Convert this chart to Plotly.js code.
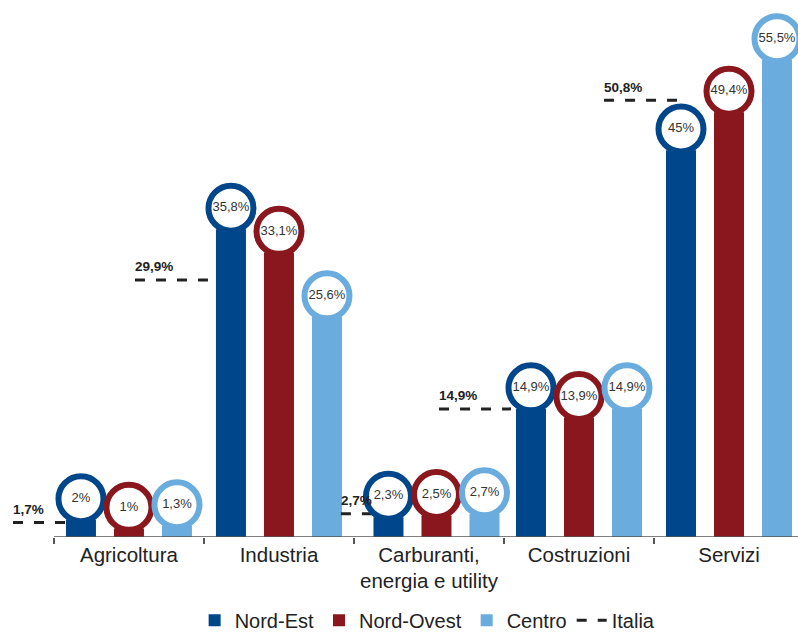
<!DOCTYPE html>
<html><head><meta charset="utf-8">
<script src="https://cdn.plot.ly/plotly-3.0.1.min.js"></script>
<style>html,body{margin:0;padding:0;background:#fff}#chart{width:798px;height:632px}</style>
</head><body><div id="chart"></div>
<script>
// ---- data ----
const categories = ['Agricoltura', 'Industria', 'Carburanti,<br>energia e utility', 'Costruzioni', 'Servizi'];
const seriesNames = ['Nord-Est', 'Nord-Ovest', 'Centro'];
const nordEst   = [2, 35.8, 2.3, 14.9, 45];
const nordOvest = [1, 33.1, 2.5, 13.9, 49.4];
const centro    = [1.3, 25.6, 2.7, 14.9, 55.5];
const italia    = [1.7, 29.9, 2.7, 14.9, 50.8];
const italiaName = 'Italia';

// ---- style / layout ----
const colors = ['#00468b', '#8a171d', '#6aacde'];
const groupOffsets = [-0.32, 0, 0.32];
const catShift = [0, 0, 0.05, 0, 0];
const barWidth = 0.2;
const circleLift = 2.45;
const italiaStart = [-0.773, -0.96, -0.587, -0.933, -0.833];
const italiaEnd   = [-0.413, -0.473, -0.367, -0.453, -0.34];
const FONT = 'Liberation Sans, Arial, Helvetica, sans-serif';

const fmt = v => String(v).replace('.', ',') + '%';
const idx = categories.map((_, i) => i);
const series = [nordEst, nordOvest, centro];

const traces = [];
series.forEach((vals, k) => {
  traces.push({
    type: 'bar', name: seriesNames[k], x: idx, y: vals,
    width: barWidth,
    offset: idx.map(i => groupOffsets[k] + catShift[i] - barWidth / 2),
    marker: {color: colors[k], line: {width: 0}},
    hoverinfo: 'skip'
  });
});

// Italia dashed segments
const ix = [], iy = [];
italia.forEach((v, i) => {
  ix.push(i + italiaStart[i], i + italiaEnd[i], null);
  iy.push(v, v, null);
});
traces.push({
  type: 'scatter', mode: 'lines', name: italiaName, x: ix, y: iy,
  line: {color: '#222', width: 3, dash: '10px,11px'},
  hoverinfo: 'skip', connectgaps: false
});

// circles
series.forEach((vals, k) => {
  traces.push({
    type: 'scatter', mode: 'markers+text', showlegend: false,
    x: idx.map(i => i + groupOffsets[k] + catShift[i]),
    y: vals.map(v => v + circleLift),
    text: vals.map(fmt), textposition: 'middle center',
    textfont: {family: FONT, size: 13, color: '#333'},
    marker: {size: 45, color: '#fff', line: {color: colors[k], width: 6}},
    cliponaxis: false, hoverinfo: 'skip'
  });
});

const annotations = italia.map((v, i) => ({
  x: i + italiaStart[i], y: v, xref: 'x', yref: 'y',
  text: '<b>' + fmt(v) + '</b>', showarrow: false,
  xanchor: 'left', yanchor: 'middle', yshift: 13, xshift: -2,
  font: {family: FONT, size: 13.5, color: '#222'}
}));

const boundaries = idx.map(i => i - 0.5).concat([categories.length - 0.5]);

const layout = {
  width: 798, height: 632,
  margin: {l: 10, r: 0, t: 10, b: 95, autoexpand: false},
  paper_bgcolor: '#fff', plot_bgcolor: '#fff',
  font: {family: FONT, color: '#222'},
  barmode: 'overlay',
  showlegend: true,
  legend: {orientation: 'h', x: 0.53, xanchor: 'center', y: -0.158, yanchor: 'middle',
           font: {family: FONT, size: 20, color: '#222'}, traceorder: 'normal',
           bgcolor: 'rgba(0,0,0,0)', tracegroupgap: 0},
  xaxis: {
    range: [-0.793, 4.46], tickmode: 'array', tickvals: idx, ticktext: categories,
    ticks: '', showline: false, zeroline: false, showgrid: false,
    ticklabelstandoff: 3,
    tickfont: {family: FONT, size: 20.5, color: '#222'},
    minor: {tickmode: 'array', tickvals: boundaries, ticks: 'outside', ticklen: 6,
            tickcolor: '#555', tickwidth: 1.5, showgrid: false}
  },
  yaxis: {range: [0, 61.3], visible: false, showgrid: false, zeroline: false},
  shapes: [{type: 'line', xref: 'x', yref: 'y', x0: -0.5, x1: 4.5, y0: 0, y1: 0,
            line: {color: '#555', width: 1.5}}],
  annotations: annotations
};

Plotly.newPlot('chart', traces, layout, {displayModeBar: false, staticPlot: true});
</script>
</body></html>
